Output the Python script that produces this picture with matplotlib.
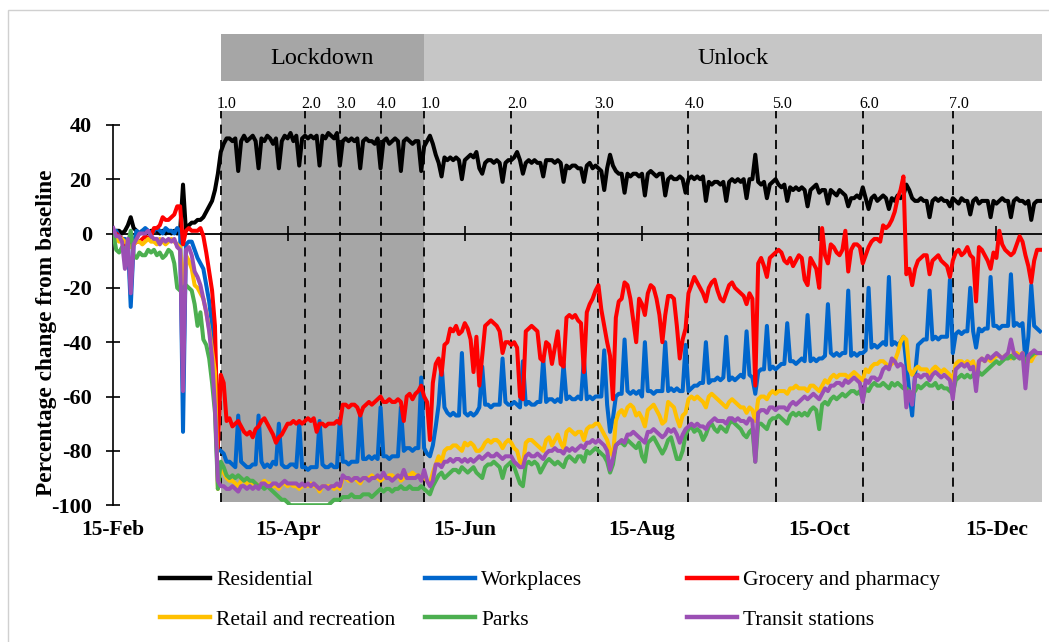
import numpy as np
import pandas as pd
import matplotlib
matplotlib.use('Agg')
import matplotlib.pyplot as plt
from matplotlib.lines import Line2D

plt.rcParams['font.family'] = 'Liberation Serif'
plt.rcParams['axes.unicode_minus'] = False

############
# Data     #
############

# Daily values from 15-Feb-2020, one row per week (Sat..Fri)
start_date = '2020-02-15'

residential = [
    0, 1, 1, 0, 1, 3, 6,
    2, 1, 0, 1, 1, 0, 1,
    1, 1, 0, 1, 0, 1, 0,
    1, 0, 1, 18, 1, 3, 4,
    4, 5, 5, 6, 8, 10, 12,
    16, 22, 30, 33, 35, 35, 34,
    35, 23, 34, 36, 34, 35, 36,
    34, 24, 35, 34, 36, 35, 33,
    35, 24, 34, 36, 35, 37, 34,
    36, 25, 35, 36, 35, 36, 35,
    36, 25, 36, 35, 37, 36, 35,
    37, 25, 34, 35, 34, 35, 34,
    35, 24, 34, 35, 34, 34, 33,
    35, 24, 34, 35, 33, 34, 35,
    34, 23, 34, 35, 34, 33, 34,
    34, 23, 32, 34, 36, 33, 29,
    26, 21, 28, 27, 28, 27, 28,
    27, 20, 27, 28, 29, 28, 30,
    24, 22, 26, 27, 27, 26, 27,
    26, 19, 26, 27, 27, 28, 30,
    27, 22, 26, 27, 26, 27, 26,
    26, 21, 27, 27, 27, 26, 27,
    26, 19, 25, 24, 25, 25, 24,
    24, 19, 25, 26, 24, 25, 24,
    23, 16, 24, 29, 25, 23, 22,
    22, 15, 22, 21, 22, 22, 21,
    22, 14, 22, 23, 22, 21, 22,
    22, 14, 20, 21, 20, 20, 21,
    20, 15, 20, 21, 20, 21, 20,
    21, 12, 19, 18, 19, 19, 18,
    19, 12, 19, 20, 19, 20, 19,
    20, 13, 20, 20, 29, 19, 18,
    19, 13, 18, 19, 20, 18, 17,
    18, 12, 17, 16, 17, 16, 17,
    16, 10, 16, 17, 18, 15, 16,
    16, 11, 16, 15, 14, 16, 15,
    14, 10, 13, 13, 14, 13, 17,
    13, 9, 13, 14, 12, 13, 14,
    13, 9, 13, 12, 14, 13, 14,
    18, 16, 13, 12, 12, 13, 12,
    12, 6, 12, 13, 12, 13, 12,
    12, 10, 13, 12, 11, 13, 12,
    12, 7, 12, 13, 11, 12, 12,
    12, 6, 12, 11, 12, 13, 12,
    12, 6, 12, 13, 12, 12, 11,
    12, 5, 11, 12, 12]

workplaces = [
    0, 1, -1, -2, -2, -3, -27,
    -4, 1, 0, 1, 2, 1, 0,
    1, 2, 1, 0, 2, 1, 1,
    0, 2, 1, -73, -4, -3, -3,
    -6, -9, -11, -13, -19, -25, -34,
    -47, -79, -80, -81, -84, -84, -85,
    -86, -67, -84, -85, -86, -86, -85,
    -85, -67, -84, -86, -85, -86, -84,
    -85, -70, -85, -86, -86, -85, -85,
    -86, -70, -86, -86, -87, -86, -86,
    -86, -69, -85, -86, -86, -85, -86,
    -86, -68, -84, -84, -85, -84, -84,
    -84, -66, -83, -83, -82, -83, -82,
    -83, -64, -82, -82, -83, -82, -82,
    -82, -64, -80, -79, -79, -80, -79,
    -79, -53, -79, -81, -82, -78, -71,
    -63, -48, -64, -66, -67, -66, -67,
    -67, -44, -66, -67, -66, -67, -66,
    -64, -49, -63, -63, -64, -63, -63,
    -63, -46, -62, -63, -63, -62, -63,
    -64, -47, -63, -62, -63, -63, -62,
    -62, -46, -62, -61, -61, -62, -61,
    -62, -48, -61, -60, -61, -61, -60,
    -61, -46, -61, -60, -61, -60, -60,
    -60, -43, -63, -73, -68, -60, -59,
    -59, -39, -58, -59, -58, -59, -58,
    -60, -40, -58, -58, -59, -58, -58,
    -58, -40, -58, -57, -58, -57, -58,
    -58, -41, -58, -57, -56, -56, -55,
    -55, -40, -55, -54, -54, -53, -54,
    -53, -38, -54, -53, -54, -53, -52,
    -53, -36, -52, -53, -59, -51, -50,
    -50, -34, -50, -49, -50, -49, -48,
    -48, -33, -47, -47, -48, -47, -46,
    -47, -30, -47, -46, -47, -46, -46,
    -45, -26, -44, -45, -44, -45, -44,
    -44, -21, -45, -44, -45, -44, -44,
    -43, -20, -42, -41, -42, -41, -40,
    -41, -16, -41, -40, -41, -40, -38,
    -48, -58, -67, -52, -41, -40, -39,
    -39, -21, -39, -38, -39, -38, -38,
    -38, -17, -44, -37, -36, -37, -36,
    -36, -20, -36, -42, -35, -36, -35,
    -35, -16, -34, -34, -35, -34, -34,
    -34, -15, -34, -33, -34, -33, -47,
    -38, -19, -34, -35, -36]

grocery = [
    0, 0, -1, -2, -4, -5, -4,
    -4, -3, -3, -2, -1, -2, -1,
    2, 2, 3, 6, 5, 5, 6,
    7, 10, 10, -4, 1, 2, 1,
    1, 1, 2, -1, -7, -14, -21,
    -34, -79, -52, -55, -69, -68, -71,
    -70, -69, -71, -73, -74, -73, -75,
    -72, -71, -69, -68, -70, -72, -74,
    -77, -75, -74, -72, -70, -70, -69,
    -70, -69, -70, -69, -68, -69, -68,
    -73, -70, -70, -71, -70, -70, -70,
    -69, -70, -63, -63, -64, -63, -63,
    -64, -67, -64, -63, -62, -63, -62,
    -61, -60, -62, -62, -61, -62, -62,
    -61, -62, -69, -60, -59, -61, -59,
    -58, -56, -60, -62, -76, -55, -48,
    -46, -52, -41, -40, -35, -36, -34,
    -37, -36, -33, -35, -39, -51, -38,
    -56, -45, -34, -33, -32, -33, -34,
    -36, -44, -40, -40, -41, -40, -42,
    -60, -61, -36, -35, -34, -35, -36,
    -46, -47, -40, -41, -48, -42, -36,
    -48, -49, -31, -30, -31, -30, -32,
    -33, -51, -29, -26, -24, -21, -19,
    -28, -34, -40, -45, -61, -31, -25,
    -24, -18, -19, -24, -32, -40, -24,
    -26, -30, -22, -19, -20, -24, -30,
    -40, -30, -23, -23, -24, -34, -46,
    -39, -35, -22, -19, -16, -18, -20,
    -22, -25, -20, -18, -17, -21, -24,
    -25, -22, -19, -18, -20, -21, -22,
    -23, -26, -22, -24, -56, -11, -9,
    -12, -16, -9, -8, -7, -6, -7,
    -10, -11, -9, -12, -10, -8, -9,
    -17, -19, -9, -11, -13, -20, 2,
    -8, -11, -4, -5, -7, -8, -6,
    1, -14, -6, -4, -4, -5, -11,
    -8, -5, -3, -2, -2, -3, 3,
    2, 3, 5, 8, 13, 16, 21,
    -15, -13, -19, -13, -10, -9, -8,
    -8, -15, -10, -9, -8, -10, -11,
    -12, -16, -10, -7, -6, -8, -7,
    -5, -8, -9, -25, -5, -6, -8,
    -10, -13, -7, -9, 1, -4, -6,
    -7, -8, -7, -4, -1, -3, -8,
    -12, -18, -10, -6, -6]

retail = [
    -1, -2, -3, -2, -3, -4, -5,
    -4, -3, -3, -4, -3, -2, -3,
    -3, -4, -2, -3, -4, -3, -2,
    -3, -4, -5, -22, -8, -10, -13,
    -19, -20, -22, -24, -29, -35, -43,
    -51, -94, -85, -88, -90, -91, -91,
    -92, -93, -91, -91, -92, -91, -92,
    -92, -93, -92, -91, -92, -92, -93,
    -93, -94, -92, -92, -93, -92, -93,
    -93, -94, -93, -93, -93, -92, -93,
    -93, -95, -93, -93, -93, -93, -94,
    -93, -94, -90, -90, -91, -91, -90,
    -91, -92, -90, -90, -90, -89, -90,
    -90, -91, -90, -90, -89, -89, -90,
    -89, -91, -90, -89, -89, -88, -89,
    -89, -90, -90, -91, -92, -88, -85,
    -82, -84, -80, -79, -79, -78, -78,
    -79, -80, -77, -78, -77, -78, -80,
    -80, -79, -77, -76, -77, -76, -76,
    -77, -79, -77, -76, -77, -79, -80,
    -84, -85, -77, -76, -76, -77, -78,
    -79, -80, -76, -75, -78, -76, -74,
    -77, -79, -73, -72, -73, -74, -73,
    -73, -76, -72, -71, -71, -70, -70,
    -72, -74, -76, -80, -82, -69, -66,
    -65, -67, -64, -63, -64, -67, -66,
    -68, -71, -65, -64, -63, -65, -67,
    -70, -69, -62, -63, -64, -68, -71,
    -67, -66, -61, -60, -61, -60, -61,
    -62, -64, -60, -59, -60, -61, -62,
    -63, -64, -62, -61, -62, -63, -64,
    -64, -66, -64, -65, -69, -61, -60,
    -60, -61, -59, -58, -59, -58, -58,
    -58, -59, -57, -57, -56, -57, -57,
    -57, -58, -56, -56, -57, -58, -56,
    -54, -55, -53, -52, -53, -52, -52,
    -52, -53, -52, -51, -52, -53, -54,
    -50, -51, -49, -48, -48, -47, -47,
    -48, -49, -48, -47, -44, -40, -38,
    -39, -50, -52, -50, -49, -50, -50,
    -50, -52, -50, -49, -50, -51, -50,
    -51, -52, -54, -48, -47, -47, -48,
    -47, -48, -47, -52, -47, -46, -47,
    -46, -47, -46, -45, -45, -46, -45,
    -45, -46, -44, -44, -45, -44, -50,
    -46, -47, -45, -44, -44]

parks = [
    0, -6, -7, -5, -6, -4, 1,
    -8, -9, -7, -8, -8, -6, -7,
    -6, -8, -7, -9, -8, -6, -7,
    -11, -20, -21, -20, -19, -20, -21,
    -26, -34, -29, -39, -41, -46, -55,
    -66, -94, -84, -86, -89, -90, -89,
    -90, -89, -90, -91, -90, -91, -91,
    -92, -93, -93, -94, -93, -94, -95,
    -96, -97, -98, -98, -99, -100, -100,
    -100, -100, -100, -100, -100, -100, -100,
    -100, -100, -100, -100, -100, -99, -98,
    -98, -98, -97, -97, -97, -96, -97,
    -97, -97, -96, -96, -96, -97, -96,
    -95, -94, -95, -94, -94, -95, -94,
    -94, -93, -94, -94, -93, -94, -94,
    -94, -93, -94, -95, -96, -93, -91,
    -89, -88, -90, -89, -88, -87, -87,
    -88, -86, -87, -88, -87, -86, -88,
    -89, -90, -86, -85, -85, -84, -85,
    -86, -90, -86, -85, -84, -86, -89,
    -92, -93, -85, -84, -85, -84, -85,
    -88, -86, -84, -83, -84, -85, -84,
    -85, -86, -83, -82, -83, -84, -82,
    -82, -84, -80, -81, -80, -79, -80,
    -81, -82, -84, -88, -85, -78, -77,
    -77, -78, -76, -77, -78, -79, -77,
    -82, -84, -77, -76, -75, -77, -79,
    -81, -79, -76, -75, -79, -83, -83,
    -80, -74, -72, -71, -73, -72, -73,
    -76, -74, -71, -70, -72, -73, -71,
    -72, -73, -70, -69, -70, -71, -72,
    -74, -75, -73, -72, -84, -70, -70,
    -71, -72, -69, -68, -68, -67, -68,
    -69, -70, -67, -66, -67, -66, -67,
    -66, -67, -65, -64, -65, -72, -63,
    -62, -63, -61, -60, -61, -60, -59,
    -60, -59, -58, -58, -59, -58, -61,
    -57, -58, -56, -55, -56, -56, -55,
    -56, -57, -55, -56, -55, -56, -57,
    -57, -58, -59, -58, -56, -57, -56,
    -55, -56, -56, -55, -57, -56, -57,
    -57, -58, -59, -54, -53, -52, -53,
    -52, -53, -52, -54, -51, -52, -51,
    -50, -49, -48, -47, -48, -47, -46,
    -46, -45, -46, -45, -46, -45, -48,
    -46, -45, -44, -44, -44]

transit = [
    2, -1, -1, -3, -13, -2, -22,
    -4, -2, 0, 0, 0, 1, -1,
    -2, -2, -4, -2, -3, -2, -3,
    -2, -5, -6, -58, -6, -5, -8,
    -14, -16, -19, -24, -29, -36, -46,
    -64, -91, -93, -93, -94, -94, -93,
    -94, -95, -93, -93, -94, -93, -94,
    -93, -94, -92, -92, -93, -93, -92,
    -92, -93, -92, -91, -92, -92, -92,
    -92, -93, -92, -93, -92, -93, -92,
    -93, -94, -93, -93, -94, -93, -93,
    -92, -93, -89, -90, -90, -91, -90,
    -90, -91, -90, -90, -91, -90, -90,
    -89, -90, -88, -90, -90, -91, -90,
    -89, -90, -87, -90, -90, -90, -90,
    -89, -91, -87, -91, -93, -91, -85,
    -85, -86, -84, -84, -83, -84, -83,
    -83, -84, -83, -84, -83, -84, -83,
    -82, -83, -82, -81, -82, -82, -81,
    -82, -83, -82, -82, -82, -84, -85,
    -86, -86, -82, -81, -82, -82, -81,
    -82, -83, -81, -80, -80, -79, -80,
    -80, -81, -79, -80, -79, -80, -79,
    -78, -79, -77, -77, -76, -77, -76,
    -77, -78, -80, -87, -83, -78, -77,
    -76, -77, -74, -74, -73, -74, -75,
    -76, -77, -73, -73, -72, -73, -74,
    -75, -74, -72, -73, -72, -74, -77,
    -74, -72, -71, -70, -71, -70, -71,
    -71, -72, -70, -69, -68, -69, -69,
    -69, -70, -68, -68, -69, -68, -69,
    -69, -70, -68, -69, -84, -66, -65,
    -65, -66, -64, -64, -65, -64, -64,
    -64, -65, -63, -62, -63, -62, -61,
    -60, -61, -60, -59, -60, -61, -59,
    -57, -58, -56, -56, -55, -55, -56,
    -54, -55, -54, -53, -54, -55, -62,
    -54, -55, -53, -53, -54, -53, -50,
    -49, -50, -46, -47, -49, -48, -49,
    -64, -58, -63, -53, -52, -53, -52,
    -52, -54, -52, -51, -52, -53, -52,
    -53, -54, -61, -50, -49, -48, -49,
    -48, -50, -49, -58, -47, -46, -47,
    -45, -46, -45, -44, -45, -46, -45,
    -44, -39, -44, -45, -46, -44, -57,
    -45, -44, -43, -44, -44]

series_names = ['Residential', 'Workplaces', 'Grocery and pharmacy',
                'Retail and recreation', 'Parks', 'Transit stations']
series_colors = ['#000000', '#0066cc', '#ff0000', '#ffc000', '#4caf50', '#9b4fb4']

tick_dates = ['2020-02-15', '2020-04-15', '2020-06-15', '2020-08-15', '2020-10-15', '2020-12-15']
tick_labels = ['15-Feb', '15-Apr', '15-Jun', '15-Aug', '15-Oct', '15-Dec']

phase_dates = ['2020-03-23', '2020-04-21', '2020-05-03', '2020-05-17',
               '2020-06-01', '2020-07-01', '2020-07-31', '2020-08-31',
               '2020-09-30', '2020-10-30', '2020-11-30']
phase_labels = ['1.0', '2.0', '3.0', '4.0', '1.0', '2.0', '3.0', '4.0', '5.0', '6.0', '7.0']

period_names = ['Lockdown', 'Unlock']
period_colors = ['#a6a6a6', '#c6c6c6']

##########
# Layout #
##########

W, H = 1049., 642.
t0 = pd.Timestamp(start_date)
def day(s):
  return (pd.Timestamp(s) - t0).days

tick_days = [day(s) for s in tick_dates]
phase_days = [day(s) for s in phase_dates]
xmax = 319.7
ymin, ymax = -100, 45.2

fig = plt.figure(figsize=(W/100, H/100), dpi=100)

# outer frame
fig.add_artist(plt.Rectangle((8/W, -0.01), 1.0, 1-10/H+0.01, transform=fig.transFigure,
                             fill=False, edgecolor='#d0d0d0', lw=1))

ax = fig.add_axes([113.3/W, 1-505.2/H, 928.7/W, 394.5/H])
ax.set_xlim(0, xmax)
ax.set_ylim(ymin, ymax)

# lockdown / unlock shading
bounds = [phase_days[0], phase_days[4], xmax]
gray_lo = (-99 - ymin)/(ymax - ymin)
for i in range(2):
  ax.axvspan(bounds[i], bounds[i+1], ymin=gray_lo, ymax=1, color=period_colors[i], lw=0, zorder=0)

ax.vlines(phase_days, -99, ymax, colors='k', linestyles=(0, (5, 3.5)), lw=1.3, zorder=1)
for d, lab in zip(phase_days, phase_labels):
  ax.text(d - 1.3, 47.5, lab, ha='left', va='center', fontsize=11.5, clip_on=False)

# zero line
ax.axhline(0, color='k', lw=1.3, zorder=2)
ax.vlines(tick_days[1:], -2.6, 2.6, colors='k', lw=1.2, zorder=2)

lines = []
for vals, c in zip([residential, workplaces, grocery, retail, parks, transit], series_colors):
  x = np.arange(len(vals))
  l, = ax.plot(x, vals, color=c, lw=2.9, solid_joinstyle='round', zorder=3)
  lines.append(l)

for s in ['top', 'right', 'bottom']:
  ax.spines[s].set_visible(False)
ax.spines['left'].set_bounds(-100, 40)
ax.spines['left'].set_linewidth(1.2)
ax.set_yticks(np.arange(-100, 41, 20))
ax.tick_params(axis='y', direction='inout', length=10, width=1.2, labelsize=16, pad=10.5)
for lbl in ax.get_yticklabels():
  lbl.set_fontweight('bold')
ax.set_xticks([])

for d, lab in zip(tick_days, tick_labels):
  ax.text(d, -0.062, lab, transform=ax.get_xaxis_transform(), ha='center', va='center',
          fontsize=15.5, fontweight='bold')

fig.text(47/W, 1-333/H, 'Percentage change from baseline', rotation=90, ha='center', va='center',
         fontsize=16.8, fontweight='bold')

# banner
axb = fig.add_axes([113.3/W, 1-81/H, 928.7/W, 47/H])
axb.set_xlim(0, xmax)
axb.set_ylim(0, 1)
axb.axis('off')
for i in range(2):
  axb.axvspan(bounds[i], bounds[i+1], color=period_colors[i], lw=0)
  axb.text((bounds[i]+bounds[i+1])/2, 0.47, period_names[i], ha='center', va='center', fontsize=17.5)

# legend, three columns
for x_px, idx in [(160, [0, 3]), (425, [1, 4]), (687, [2, 5])]:
  handles = [Line2D([], [], color=series_colors[i], lw=3.2) for i in idx]
  fig.legend(handles, [series_names[i] for i in idx], loc='upper left',
             bbox_to_anchor=(x_px/W, 1-570/H), frameon=False, fontsize=15.5,
             handlelength=2.3, handletextpad=0.3, labelspacing=0.9,
             borderpad=0, borderaxespad=0)

fig.savefig('out.png', dpi=100)
